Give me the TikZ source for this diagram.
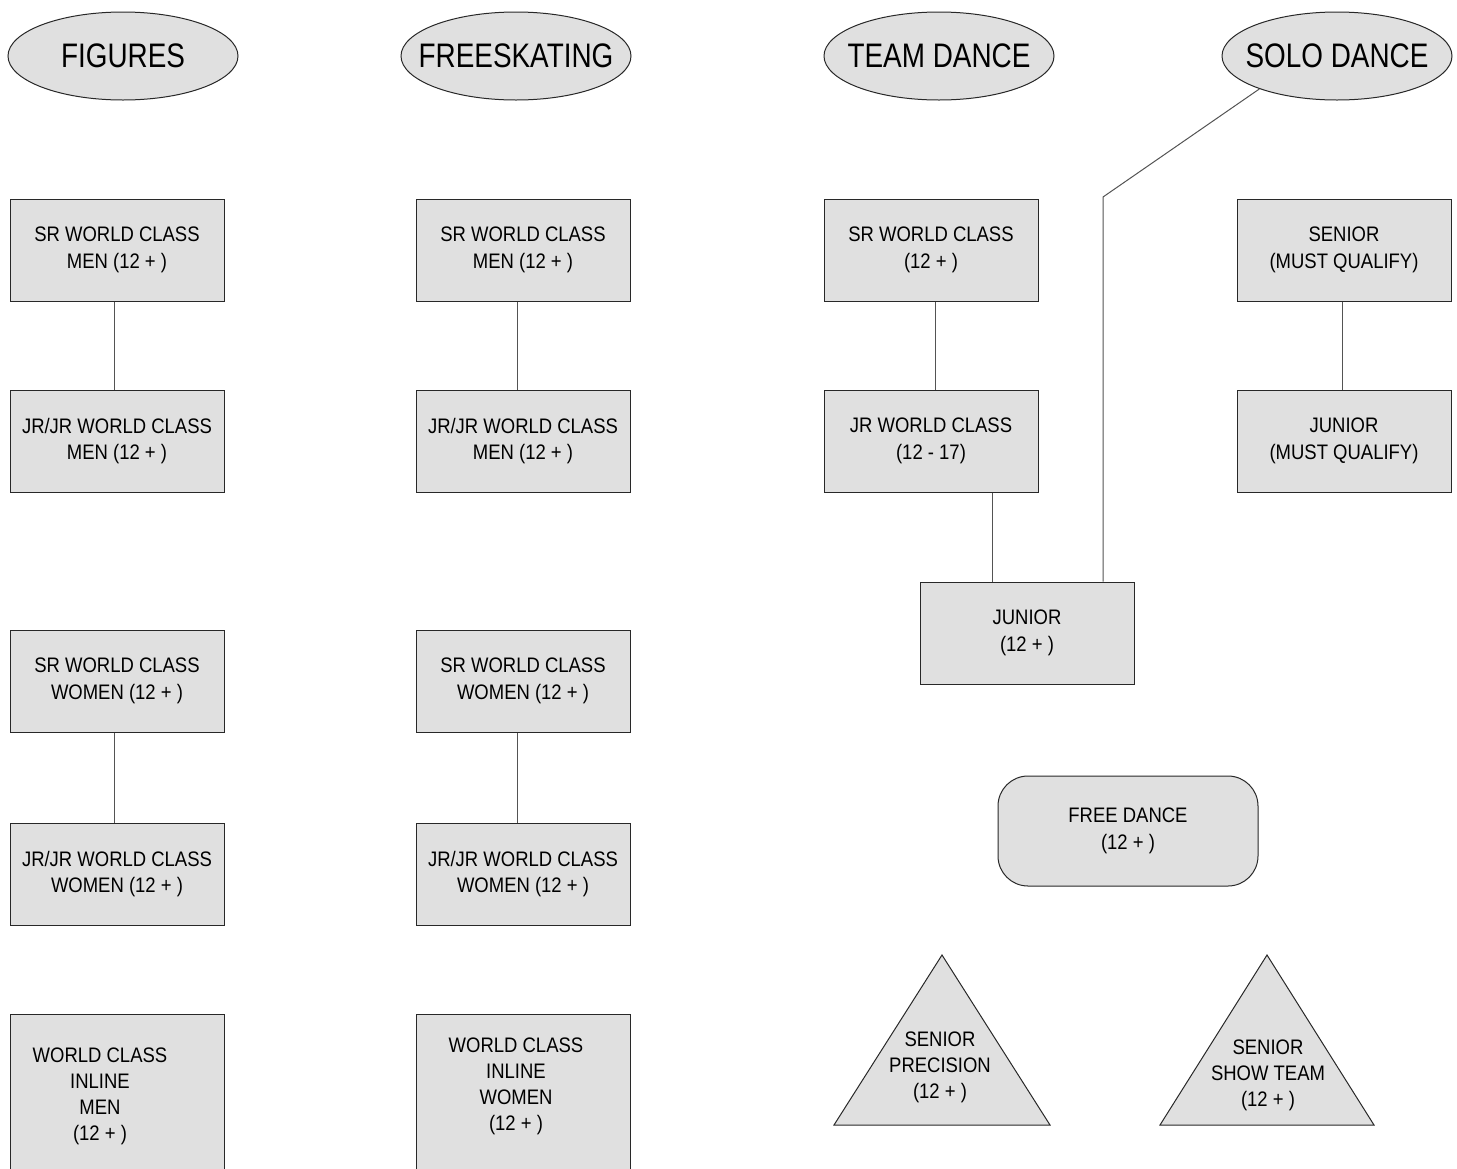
\documentclass[tikz,border=0pt]{standalone}
\usepackage{fontspec}
\setmainfont{Liberation Sans}
\newfontfamily\boxfont{Liberation Sans}[FakeStretch=0.88]
\newfontfamily\titlefont{Liberation Sans}[FakeStretch=0.82]
\usetikzlibrary{shapes.geometric}
\definecolor{shapefill}{RGB}{224,224,224}
\definecolor{edgecol}{RGB}{40,40,40}
\tikzset{
  base/.style={fill=shapefill, draw=edgecol, line width=1pt, inner sep=0pt},
  oval/.style={base, ellipse, minimum width=230pt, minimum height=88pt,
    font=\titlefont\fontsize{34}{38}\selectfont},
  catbox/.style={base, rectangle, minimum width=214pt, minimum height=102pt,
    align=center, font=\boxfont\fontsize{21}{26.5}\selectfont},
  tallbox/.style={base, rectangle, minimum width=214pt, minimum height=175pt, anchor=north},
  txt/.style={inner sep=0pt, align=center, font=\boxfont\fontsize{21}{26}\selectfont},
  freebox/.style={catbox, minimum width=260pt, minimum height=110pt, rounded corners=30pt},
  tri/.style={fill=shapefill, draw=edgecol, line width=1pt, line join=miter},
  link/.style={draw=edgecol!80, line width=1pt}
}
\begin{document}
\begin{tikzpicture}[x=1pt,y=-1pt]
\useasboundingbox (0,0) rectangle (1457,1168);
\clip (0,0) rectangle (1457,1168);

% headers
\node[oval] (fig) at (123,56) {\makebox[0pt]{FIGURES}};
\node[oval] (free) at (516,56) {\makebox[0pt]{FREESKATING}};
\node[oval] (team) at (939,56) {\makebox[0pt]{TEAM DANCE}};
\node[oval] (solo) at (1337,56) {\makebox[0pt]{SOLO DANCE}};

% figures column
\node[catbox] (f1) at (117,250) {SR WORLD CLASS\\MEN (12 + )};
\node[catbox] (f2) at (117,441) {JR/JR WORLD CLASS\\MEN (12 + )};
\node[catbox] (f3) at (117,681) {SR WORLD CLASS\\WOMEN (12 + )};
\node[catbox] (f4) at (117,874) {JR/JR WORLD CLASS\\WOMEN (12 + )};
\node[tallbox] (f5) at (117,1014) {};
\node[txt] (f5t) at (100,1096) {WORLD CLASS\\INLINE\\MEN\\(12 + )};

% freeskating column
\node[catbox] (k1) at (523,250) {SR WORLD CLASS\\MEN (12 + )};
\node[catbox] (k2) at (523,441) {JR/JR WORLD CLASS\\MEN (12 + )};
\node[catbox] (k3) at (523,681) {SR WORLD CLASS\\WOMEN (12 + )};
\node[catbox] (k4) at (523,874) {JR/JR WORLD CLASS\\WOMEN (12 + )};
\node[tallbox] (k5) at (523,1014) {};
\node[txt] (k5t) at (516,1086) {WORLD CLASS\\INLINE\\WOMEN\\(12 + )};

% team dance column
\node[catbox] (t1) at (931,250) {SR WORLD CLASS\\(12 + )};
\node[catbox] (t2) at (931,441) {JR WORLD CLASS\\(12 - 17)};
\node[catbox] (tj) at (1027,633) {JUNIOR\\(12 + )};

% solo dance column
\node[catbox] (s1) at (1344,250) {SENIOR\\(MUST QUALIFY)};
\node[catbox] (s2) at (1344,441) {JUNIOR\\(MUST QUALIFY)};

% free dance
\node[freebox] (fd) at (1128,831) {FREE DANCE\\(12 + )};

% triangles
\draw[tri] (942,955) -- (834,1125) -- (1050,1125) -- cycle;
\node[txt] (sp) at (940,1067) {SENIOR\\PRECISION\\(12 + )};
\draw[tri] (1267,955) -- (1160,1125) -- (1374,1125) -- cycle;
\node[txt] (ss) at (1268,1075) {SENIOR\\SHOW TEAM\\(12 + )};

% connectors
\coordinate (cf) at (114,0);
\coordinate (ck) at (517,0);
\coordinate (ct) at (935,0);
\coordinate (cj) at (992,0);
\coordinate (cs) at (1342,0);
\coordinate (bend) at (1103,197);
\draw[link] (f1.south -| cf) -- (f2.north -| cf);
\draw[link] (f3.south -| cf) -- (f4.north -| cf);
\draw[link] (k1.south -| ck) -- (k2.north -| ck);
\draw[link] (k3.south -| ck) -- (k4.north -| ck);
\draw[link] (t1.south -| ct) -- (t2.north -| ct);
\draw[link] (t2.south -| cj) -- (tj.north -| cj);
\draw[link] (s1.south -| cs) -- (s2.north -| cs);
\draw[link] (solo.203) -- (bend) -- (tj.north -| bend);
\end{tikzpicture}
\end{document}
